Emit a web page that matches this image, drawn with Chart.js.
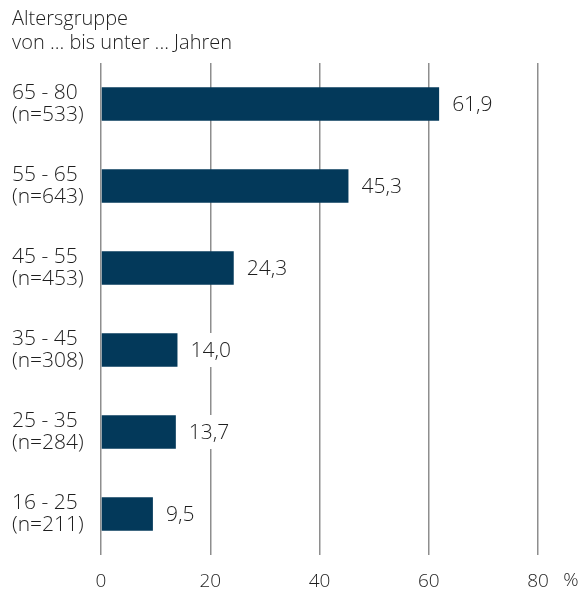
<!DOCTYPE html>
<html>
<head>
<meta charset="utf-8">
<script src="https://cdn.jsdelivr.net/npm/chart.js@4"></script>
<style>
  html, body { margin: 0; padding: 0; background: #fff; }
  #wrap { width: 585px; height: 592px; }
</style>
</head>
<body>
<div id="wrap"><canvas id="myChart" width="585" height="592"></canvas></div>
<script>
'use strict';

// Daten aus dem Bild
var ageGroups = ['65 - 80', '55 - 65', '45 - 55', '35 - 45', '25 - 35', '16 - 25'];
var sampleSizes = ['(n=533)', '(n=643)', '(n=453)', '(n=308)', '(n=284)', '(n=211)'];
var values = [61.9, 45.3, 24.3, 14.0, 13.7, 9.5];
var xTicks = [0, 20, 40, 60, 80];

var textFont = "'Open Sans', 'Liberation Sans', Arial, sans-serif";
var textColor = '#1e1e1e';
var textWeight = 300;

// Werte rechts neben den Balken (mit weißem Hintergrund über den Gitterlinien) + "%"
var valueLabels = {
  id: 'valueLabels',
  afterDatasetsDraw: function(chart) {
    var ctx = chart.ctx;
    var meta = chart.getDatasetMeta(0);
    ctx.save();
    ctx.font = textWeight + ' 21px ' + textFont;
    ctx.textAlign = 'left';
    ctx.textBaseline = 'middle';
    meta.data.forEach(function(bar, i) {
      var txt = values[i].toFixed(1).replace('.', ',');
      var tx = bar.x + 13;
      var w = ctx.measureText(txt).width;
      ctx.fillStyle = '#fff';
      ctx.fillRect(tx - 3, bar.y - 17, w + 6, 34);
      ctx.fillStyle = textColor;
      ctx.fillText(txt, tx, bar.y + 1);
    });
    var xs = chart.scales.x;
    ctx.font = textWeight + ' 19px ' + textFont;
    ctx.textAlign = 'center';
    ctx.fillText('%', xs.getPixelForValue(80) + 33, 581);
    ctx.restore();
  }
};

var labels = ageGroups.map(function(g, i) { return [g, sampleSizes[i]]; });

new Chart(document.getElementById('myChart'), {
  type: 'bar',
  data: {
    labels: labels,
    datasets: [{
      data: values,
      backgroundColor: '#03395a',
      barPercentage: 0.41,
      categoryPercentage: 1
    }]
  },
  options: {
    indexAxis: 'y',
    responsive: false,
    animation: false,
    layout: { padding: { left: 12, right: 47, top: 7, bottom: 0 } },
    plugins: {
      legend: { display: false },
      tooltip: { enabled: false },
      title: {
        display: true,
        text: ['Altersgruppe', 'von ... bis unter ... Jahren'],
        align: 'start',
        color: textColor,
        font: { family: textFont, size: 20, weight: textWeight, lineHeight: 1.2 },
        padding: { top: 0, bottom: 8 }
      }
    },
    scales: {
      x: {
        min: 0,
        max: 80,
        afterBuildTicks: function(scale) {
          scale.ticks = xTicks.map(function(v) { return { value: v }; });
        },
        afterFit: function(scale) { scale.height = 37; },
        grid: { color: '#8e8e8e', lineWidth: 1.5, drawTicks: false },
        border: { display: false },
        ticks: {
          color: textColor,
          padding: 15,
          font: { family: textFont, size: 19, weight: textWeight }
        }
      },
      y: {
        grid: { display: false, drawTicks: false },
        border: { display: false },
        afterFit: function(scale) { scale.width = 89; },
        ticks: {
          crossAlign: 'far',
          color: textColor,
          font: { family: textFont, size: 21, weight: textWeight, lineHeight: 1.05 }
        }
      }
    }
  },
  plugins: [valueLabels]
});
</script>
</body>
</html>
